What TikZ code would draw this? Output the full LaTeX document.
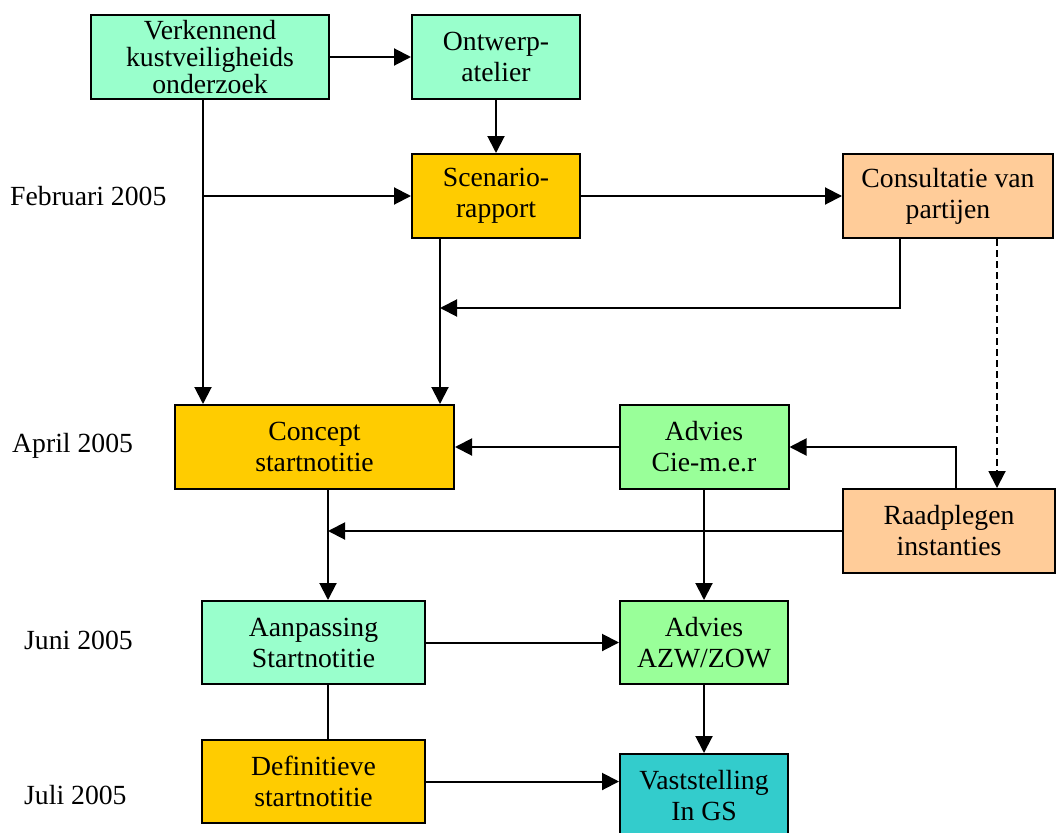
\documentclass[tikz,border=0pt]{standalone}
\usepackage{fontspec}
\setmainfont{Liberation Serif}
\usetikzlibrary{arrows.meta,calc}
\definecolor{mint}{HTML}{99FFCC}
\definecolor{gold}{HTML}{FFCC00}
\definecolor{peach}{HTML}{FFCC99}
\definecolor{lgreen}{HTML}{99FF99}
\definecolor{teal2}{HTML}{33CCCC}
\begin{document}
\begin{tikzpicture}[x=1pt,y=-1pt,
  box/.style={draw=black,line width=2pt,minimum height=84pt,inner sep=0pt,align=center,
    font=\fontsize{27.7}{31}\selectfont},
  lbl/.style={anchor=west,inner sep=0pt,font=\fontsize{27.7}{31}\selectfont},
  conn/.style={line width=2pt},
  arr/.style={conn,-{Triangle[length=17pt,width=17pt]}}]
\useasboundingbox[fill=white] (0,0) rectangle (1056,832);
% boxes
\node[box,fill=mint,minimum width=238pt,font=\fontsize{27.7}{26.7}\selectfont] (verk) at (210,57) {Verkennend\\kustveiligheids\\onderzoek};
\node[box,fill=mint,minimum width=168pt] (ontw) at (496,57) {Ontwerp-\\atelier};
\node[box,fill=gold,minimum width=168pt] (scen) at (496,196) {Scenario-\\rapport};
\node[box,fill=peach,minimum width=210pt] (cons) at (948,196) {Consultatie van\\partijen};
\node[box,fill=gold,minimum width=279pt] (conc) at (314.5,447) {Concept\\startnotitie};
\node[box,fill=lgreen,minimum width=169pt] (advc) at (704,447) {Advies\\Cie-m.e.r};
\node[box,fill=peach,minimum width=212pt] (raad) at (949,531) {Raadplegen\\instanties};
\node[box,fill=mint,minimum width=223pt,minimum height=83pt] (aanp) at (313.5,642.5) {Aanpassing\\Startnotitie};
\node[box,fill=lgreen,minimum width=168pt,minimum height=83pt] (advz) at (704,642.5) {Advies\\AZW/ZOW};
\node[box,fill=gold,minimum width=223pt,minimum height=83pt] (defi) at (313.5,781.5) {Definitieve\\startnotitie};
\node[box,fill=teal2,minimum width=168pt] (vast) at (704,796) {Vaststelling\\In GS};
% labels
\node[lbl] (lfeb) at (10,196) {Februari 2005};
\node[lbl] (lapr) at (12,446) {April 2005};
\node[lbl] (ljun) at (24,640) {Juni 2005};
\node[lbl] (ljul) at (24,795) {Juli 2005};
% connectors
\coordinate (vs) at ([xshift=-7pt]verk.south);
\draw[arr] (vs) -- (vs |- conc.north);
\draw[arr] (vs |- scen.west) -- (scen.west);
\draw[arr] (verk.east) -- (ontw.west);
\draw[arr] (ontw.south) -- (scen.north);
\coordinate (ss) at ([xshift=-56pt]scen.south);
\draw[arr] (ss) -- (ss |- conc.north);
\draw[arr] (scen.east) -- (cons.west);
\coordinate (cs) at ([xshift=-48pt]cons.south);
\coordinate (cr) at ($(cs)+(0,69)$);
\draw[arr] (cs) -- (cr) -- (cr -| ss);
\draw[arr,dashed,dash pattern=on 7pt off 4pt] ([xshift=49pt]cons.south) -- ([xshift=48pt]raad.north);
\coordinate (rn) at ([xshift=7pt]raad.north);
\draw[arr] (rn) |- (advc.east);
\draw[arr] (advc.west) -- (conc.east);
\coordinate (ccs) at ([xshift=13.5pt]conc.south);
\draw[arr] (raad.west) -- (raad.west -| ccs);
\draw[arr] (ccs) -- (ccs |- aanp.north);
\draw[arr] (advc.south) -- (advz.north);
\draw[arr] (aanp.east) -- (advz.west);
\coordinate (as) at ([xshift=14.5pt]aanp.south);
\draw[conn] (as) -- (as |- defi.north);
\draw[arr] (defi.east) -- (defi.east -| vast.west);
\draw[arr] (advz.south) -- (vast.north);
\end{tikzpicture}
\end{document}
